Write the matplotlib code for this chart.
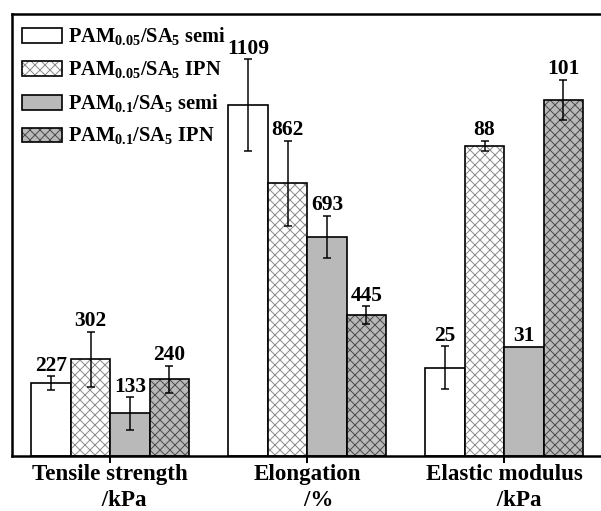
import numpy as np
import matplotlib.pyplot as plt
from matplotlib.legend_handler import HandlerTuple

plt.rcParams['font.family'] = 'Liberation Serif'
plt.rcParams['font.weight'] = 'bold'
plt.rcParams['mathtext.fontset'] = 'custom'
plt.rcParams['mathtext.bf'] = 'Liberation Serif:bold'
plt.rcParams['mathtext.rm'] = 'Liberation Serif:bold'
plt.rcParams['hatch.linewidth'] = 0.6

groups = ['Tensile strength\n     /kPa', 'Elongation\n    /%', 'Elastic modulus\n     /kPa']
samples = [r'PAM$_{\mathbf{0.05}}$/SA$_{\mathbf{5}}$ semi',
           r'PAM$_{\mathbf{0.05}}$/SA$_{\mathbf{5}}$ IPN',
           r'PAM$_{\mathbf{0.1}}$/SA$_{\mathbf{5}}$ semi',
           r'PAM$_{\mathbf{0.1}}$/SA$_{\mathbf{5}}$ IPN']

# rows: groups, columns: samples
values = [[227, 302, 133, 240],
          [1109, 862, 693, 445],
          [25, 88, 31, 101]]
errors = [[22, 86, 51, 42],
          [145, 135, 67, 29],
          [6.1, 1.4, 0, 5.8]]

fills = ['white', 'white', '#b9b9b9', '#b9b9b9']
hatches = ['', 'xxxx', '', 'xxxx']
hatch_colors = ['black', '#8c8c8c', 'black', '#4d4d4d']

# each property gets its own y scale
ytops = [1379, 1397, 125.4]
width = 0.2
offsets = [-0.3, -0.1, 0.1, 0.3]

fig = plt.figure(figsize=(601 / 120, 511 / 120), dpi=120)
ax = fig.add_axes([0.0195, 0.1076, 0.9805, 0.865])
axes = [ax, ax.twinx(), ax.twinx()]

handles = []
for i, a in enumerate(axes):
    a.set_ylim(0, ytops[i])
    a.tick_params(left=False, right=False, labelleft=False, labelright=False)
    for s in a.spines.values():
        s.set_visible(False)
    for j in range(4):
        x = i + offsets[j]
        v = values[i][j]
        e = errors[i][j]
        b1 = a.bar(x, v, width, color=fills[j], hatch=hatches[j],
                   edgecolor=hatch_colors[j], linewidth=0)
        b2 = a.bar(x, v, width, fill=False, edgecolor='black', linewidth=1.0)
        if i == 0:
            handles.append((b1, b2))
        if e > 0:
            a.errorbar(x, v, yerr=e, fmt='none', ecolor='black',
                       elinewidth=0.9, capsize=2.4, capthick=0.9)
        a.annotate(str(v), (x, v + e), xytext=(0, 0.3), textcoords='offset points',
                   ha='center', va='bottom', fontsize=12.9, fontweight='bold')

ax.set_xlim(-0.5, 2.491)
ax.set_xticks([0, 1, 2])
ax.set_xticklabels(groups, fontsize=13.8, fontweight='bold', linespacing=1.3)
ax.tick_params(axis='x', length=4.2, width=1.2, pad=0.5)

top = axes[2]
for side in ['top', 'bottom', 'left']:
    top.spines[side].set_visible(True)
    top.spines[side].set_linewidth(1.5)

top.legend(handles, samples, handler_map={tuple: HandlerTuple(ndivide=1)},
           loc='upper left', bbox_to_anchor=(0.017, 0.973), borderaxespad=0,
           borderpad=0, frameon=False, fontsize=12.2, handlelength=1.97,
           handleheight=0.74, handletextpad=0.3, labelspacing=0.56)

fig.savefig('out.png', dpi=120)
